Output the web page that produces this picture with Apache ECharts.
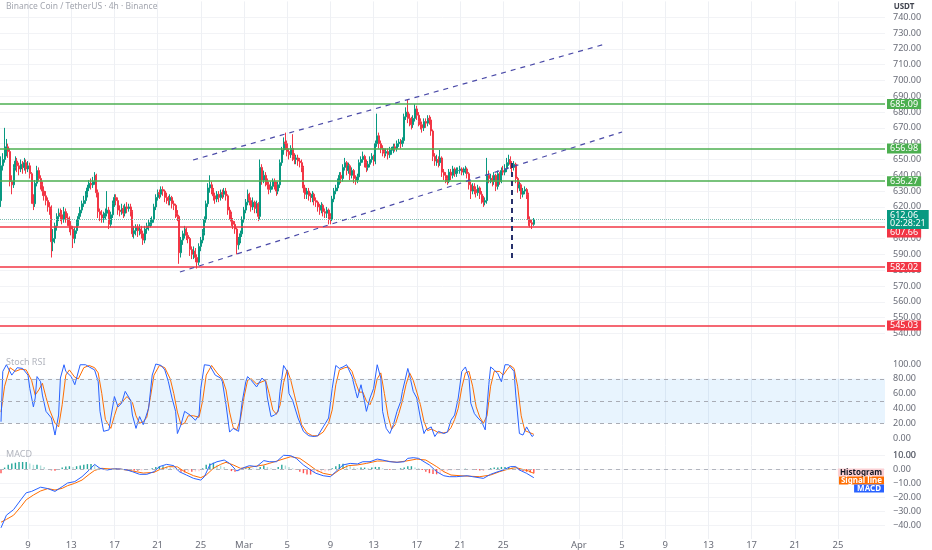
<!DOCTYPE html>
<html><head><meta charset="utf-8">
<script src="https://cdn.jsdelivr.net/npm/echarts@6/dist/echarts.min.js"></script>
<style>html,body{margin:0;padding:0;background:#fff}#c{width:932px;height:550px}</style>
</head><body><div id="c"></div>
<script>
// ---------- DATA ----------
// 4h candles, index 0 = Feb 6 12:00; each candle opens at the previous close
const firstOpen = 624;
const closes = [
646,650,657,658,655,636,634,645,649,646,
644,647,645,648,644,646,641,625,622,635,
643,638,634,630,627,624,620,619,598,600,
608,614,616,615,612,617,613,612,608,606,
600,605,610,614,618,622,624,628,632,635,
634,636,640,629,617,615,613,614,616,618,
609,615,622,626,624,618,617,619,616,620,
619,620,617,603,605,607,605,606,603,599,
606,608,609,610,612,620,626,629,628,631,
630,626,625,624,626,622,621,616,614,591,
599,603,606,602,600,593,590,592,588,585,
595,599,604,612,622,632,634,631,627,625,
628,626,629,628,630,627,618,615,611,609,
606,596,599,603,612,618,623,628,624,620,
623,619,622,614,645,637,640,636,634,631,
633,636,634,630,634,648,656,661,660,655,
653,657,652,650,651,649,648,645,632,628,
630,627,626,628,624,623,620,618,621,617,
616,618,614,612,625,630,632,636,640,638,
645,648,643,646,640,643,638,637,639,648,
650,652,648,645,647,650,652,649,660,665,
660,657,655,654,655,653,656,656,658,657,
660,661,660,662,677,680,676,675,672,676,
682,678,674,672,670,674,673,676,675,668,
652,649,650,648,651,642,640,638,636,642,
640,644,641,643,643,644,642,643,644,641,
634,630,633,631,629,632,628,625,623,624,
640,638,638,636,640,633,641,636,643,642,
644,648,650,647,645,647,638,632,634,628,
630,631,628,612,610,609,612.06];
const highs = [
652,654,670,663,660,657,640,647,652,651,
648,650,649,651,650,649,648,642,628,637,
646,645,640,636,633,630,626,623,621,606,
610,616,619,619,618,620,619,616,614,611,
608,607,612,616,620,624,627,630,634,637,
638,639,642,641,631,619,618,617,619,630,
620,617,624,628,628,626,621,622,621,622,
623,622,622,618,608,609,609,609,608,605,
608,610,612,613,614,622,628,631,631,633,
633,631,629,627,628,627,624,622,618,615,
601,605,608,607,604,601,595,595,594,590,
597,601,606,614,624,635,640,636,632,629,
630,630,631,631,632,632,628,620,617,613,
611,607,601,605,614,620,625,631,629,626,
626,624,624,623,650,647,643,642,638,636,
636,638,638,636,636,650,658,664,667,662,
657,659,666,654,653,653,651,650,646,634,
632,632,629,630,629,626,624,622,623,622,
619,620,619,616,627,632,634,638,642,642,
647,651,649,648,647,645,644,640,641,650,
652,655,653,650,649,652,654,653,662,679,
667,662,659,657,657,657,658,658,660,660,
662,663,663,664,679,683,688,679,677,678,
685,684,680,676,674,676,676,678,678,677,
669,654,653,652,656,652,644,642,640,644,
644,646,645,645,645,646,645,645,646,645,
642,636,635,635,633,634,633,630,627,626,
651,643,641,640,642,641,643,642,645,646,
647,651,653,652,649,649,648,639,636,635,
632,633,632,629,614,612,613];
const lows = [
620,643,648,652,651,633,628,632,643,642,
640,642,641,643,641,642,638,622,618,620,
633,636,631,627,624,621,617,615,588,592,
597,605,611,611,609,610,610,608,604,602,
594,597,603,608,612,616,620,622,626,630,
631,632,634,626,613,611,610,610,612,614,
606,607,613,620,621,615,614,615,613,614,
616,617,614,601,600,602,601,602,600,596,
597,603,605,607,608,610,618,624,625,626,
627,623,622,621,621,619,618,613,611,584,
588,596,600,599,597,589,587,587,585,581,
583,592,597,602,610,620,629,628,624,622,
623,623,624,625,626,624,615,612,608,606,
603,590,593,597,601,610,616,621,621,617,
618,616,616,611,612,634,635,633,631,628,
629,631,631,627,628,632,646,653,656,652,
650,651,649,647,647,646,645,642,629,625,
625,624,623,623,621,620,617,615,616,614,
613,613,609,609,611,623,628,630,634,635,
636,643,640,641,637,638,635,634,635,637,
646,648,645,642,643,645,648,646,647,658,
657,654,652,651,652,650,651,653,654,655,
655,658,657,658,660,675,673,671,669,670,
674,675,671,669,667,668,670,671,672,665,
649,646,646,645,646,639,637,635,634,635,
637,638,639,639,641,641,640,640,641,638,
631,625,628,628,626,627,625,622,620,621,
622,635,635,633,634,630,631,634,635,640,
640,642,646,644,642,643,635,629,630,625,
626,628,625,608,607,606,608];

// horizontal levels and current price
const resistanceLevels = [685.09, 656.98, 636.27];
const supportLevels = [607.66, 582.02, 545.03];
const lastPrice = 612.06;
const countdown = '02:28:21';

// drawings, in [candle index, price]
const channelUpper = [[106.7, 649.7], [335.6, 723.0]];
const channelLower = [[99.4, 578.8], [345.0, 667.4]];
const dropMarker = [[283.9, 647.8], [283.9, 585.2]];

// time axis ticks (candle index of each date label)
const xTickIdx = [15,39,63,87,111,135,159,183,207,231,255,279,321,345,369,393,417,441,465];
const xTickLabels = ['9','13','17','21','25','Mar','5','9','13','17','21','25','Apr','5','9','13','17','21','25'];
// value-axis tick labels
const priceTicks = [540,550,560,570,580,590,600,610,620,630,640,650,660,670,680,690,700,710,720,730,740];
const stochTicks = [0,20,40,60,80,100];
const macdTicks = [-40,-30,-20,-10,0,10];

// Stoch RSI [candle index, value]
const stochK = [[0,22],[1,90],[3,99],[6,85],[9,95],[12,94],[15,85],[16,67],[18,42],[19,54],[20,83],[22,76],[23,58],[25,36],[28,27],[30,4],[32,31],[33,81],[35,99],[36,90],[39,83],[41,72],[44,99],[47,99],[49,96],[52,92],[54,76],[55,36],[57,9],[60,11],[61,27],[63,56],[65,42],[67,47],[69,63],[72,51],[73,31],[75,13],[77,29],[79,18],[82,40],[84,85],[86,100],[89,98],[91,92],[93,76],[95,54],[97,36],[98,6],[100,18],[102,36],[105,31],[108,24],[110,31],[111,67],[113,99],[116,98],[119,85],[122,81],[123,76],[125,45],[127,8],[129,13],[132,9],[134,49],[136,76],[137,83],[139,78],[142,69],[145,81],[147,76],[148,54],[150,29],[152,31],[154,36],[155,63],[157,98],[159,90],[160,60],[162,51],[165,27],[168,9],[171,3],[174,2],[176,3],[179,15],[182,27],[184,67],[186,98],[188,94],[190,96],[192,99],[195,83],[197,63],[198,54],[200,72],[202,49],[203,36],[205,54],[207,67],[209,99],[211,81],[212,36],[214,13],[216,6],[218,18],[220,36],[222,49],[223,63],[226,94],[227,85],[229,63],[231,54],[233,27],[235,6],[236,11],[239,15],[241,2],[243,9],[246,6],[248,8],[250,24],[252,31],[254,54],[256,90],[258,96],[260,81],[261,47],[263,33],[265,27],[267,22],[269,11],[271,72],[272,96],[274,92],[276,87],[278,76],[280,99],[282,99],[285,90],[286,58],[288,6],[290,4],[292,15],[295,2],[296,4]];
const stochD = [[0,35],[2,70],[5,95],[8,90],[11,93],[14,92],[17,78],[19,58],[21,65],[23,74],[25,55],[27,38],[30,20],[32,15],[34,45],[36,85],[38,92],[41,82],[43,80],[46,95],[49,98],[52,95],[54,88],[56,60],[58,25],[61,13],[63,30],[65,45],[67,48],[70,56],[73,48],[75,30],[77,20],[79,22],[81,28],[83,55],[85,85],[88,98],[91,95],[94,80],[96,60],[98,35],[100,18],[102,20],[104,30],[107,30],[110,28],[112,50],[114,85],[117,98],[120,88],[123,80],[125,65],[127,35],[129,14],[131,11],[133,25],[135,55],[137,78],[139,80],[142,73],[145,76],[147,78],[149,60],[151,38],[153,32],[155,44],[157,75],[159,92],[161,78],[163,58],[165,38],[167,18],[170,7],[173,3],[176,3],[179,8],[182,20],[184,38],[186,72],[188,92],[191,95],[193,96],[195,90],[197,75],[199,62],[201,62],[203,50],[205,45],[207,57],[209,80],[211,88],[213,60],[215,30],[217,12],[219,18],[221,33],[223,50],[225,72],[227,88],[229,78],[231,62],[233,45],[235,22],[237,10],[239,12],[241,10],[243,7],[246,7],[248,8],[250,14],[252,25],[254,40],[256,68],[258,88],[260,90],[262,70],[264,42],[266,28],[268,20],[270,30],[272,70],[274,90],[277,90],[279,85],[281,92],[283,98],[285,94],[287,70],[289,30],[291,10],[293,8],[295,6],[296,5]];
const stochBand = [20, 80];
const stochMid = 50;

// MACD [candle index, value]
const macdLine = [[0,-42],[3,-33],[7,-29],[11,-22],[14,-17],[17,-16],[22,-13],[26,-14],[30,-16],[34,-12.6],[37,-10],[41,-9],[45,-5.5],[49,-0.7],[52,3.3],[55,0.5],[59,-0.7],[62,0],[66,0],[70,-0.7],[73,-1.9],[77,-3.8],[81,-3.8],[85,-1.9],[88,1.7],[92,3.3],[96,2.4],[99,-1.9],[103,-4.3],[107,-6.7],[111,-7.9],[113,-5.5],[116,2.9],[120,5.2],[124,6.4],[127,4.0],[131,-1.4],[135,1.0],[138,2.4],[142,1.7],[146,6.0],[149,5.2],[153,5.2],[157,9.8],[161,9.5],[164,7.6],[168,2.9],[172,-0.7],[175,-3.1],[179,-4.8],[183,-5.5],[186,-1.9],[190,2.9],[194,4.0],[198,3.6],[201,5.2],[205,5.2],[209,7.1],[212,6.4],[216,5.2],[220,4.8],[224,5.2],[226,7.6],[229,8.1],[232,7.6],[235,5.2],[238,2.9],[242,-1.9],[246,-4.8],[249,-5.5],[253,-5.5],[259,-4.8],[262,-5.5],[268,-6.7],[272,-3.8],[275,-2.4],[279,-0.7],[283,1.7],[286,1.7],[288,-0.7],[292,-3.1],[296,-6.2]];
const signalLine = [[0,-38],[3,-36],[7,-33],[11,-27],[14,-22],[18,-18.6],[22,-15.7],[26,-14],[30,-15],[34,-13.8],[37,-11.9],[41,-10.2],[45,-7.9],[49,-3.8],[52,-1.0],[56,0.5],[61,0],[66,0],[73,-1.4],[79,-2.9],[85,-2.4],[88,-0.5],[93,1.7],[98,1.5],[102,-1.9],[107,-4.8],[111,-6.2],[114,-4.3],[118,0.5],[122,3.3],[125,4.8],[129,2.9],[133,0.5],[137,1.0],[140,1.7],[146,2.9],[149,4.0],[155,6.4],[161,8.8],[166,7.6],[170,4.0],[175,-0.7],[179,-3.1],[184,-4.3],[188,-0.7],[193,2.4],[198,2.9],[203,4.0],[209,5.7],[214,5.7],[220,4.8],[225,5.7],[231,7.1],[236,6.4],[242,1.7],[246,-1.9],[250,-4.3],[255,-4.8],[261,-5.2],[266,-5.5],[272,-4.3],[277,-1.9],[282,0],[286,1.0],[289,0],[293,-1.4],[296,-3.1]];
const histogram = [[0,-3],[2,1],[4,3],[6,4],[8,4.5],[10,5],[12,5],[14,5],[16,4],[18,3],[20,3],[22,2.5],[24,1.5],[26,0],[28,-1],[30,-1.2],[32,-0.5],[34,1],[36,1.8],[38,2],[40,1.5],[42,2],[44,2.5],[46,3],[48,3.5],[50,3.5],[52,3],[54,1],[56,0],[58,-0.8],[60,-0.5],[62,0],[64,0.3],[66,0],[68,-0.3],[70,-0.5],[72,-0.8],[74,-1],[76,-1.2],[78,-1],[80,-0.8],[82,0],[84,0.6],[86,1.5],[88,2],[90,2],[92,1.8],[94,1],[96,0.6],[98,-0.8],[100,-2],[102,-2.4],[104,-2],[106,-2],[108,-1.8],[110,-1.6],[112,0.5],[114,3],[116,4],[118,4.5],[120,3],[122,2.5],[124,1.5],[126,0],[128,-1.5],[130,-2],[132,-1.5],[134,0],[136,0.5],[138,0.8],[140,0.3],[142,0.2],[144,1.5],[146,2.5],[148,1.5],[150,0.5],[152,0],[154,1.5],[156,3],[158,2.5],[160,1.5],[162,0.5],[164,-0.5],[166,-2],[168,-3],[170,-4],[172,-4],[174,-3],[176,-2.5],[178,-2],[180,-1.8],[182,-1.5],[184,0.5],[186,2],[188,3.5],[190,3.8],[192,3],[194,2],[196,1],[198,0.5],[200,1],[202,1],[204,0.5],[206,1],[208,1.5],[210,1.5],[212,0.5],[214,0],[216,-0.5],[218,-0.5],[220,0],[222,0.5],[224,1],[226,2],[228,2],[230,1],[232,0.5],[234,-0.8],[236,-2],[238,-3],[240,-3.5],[242,-3.8],[244,-3],[246,-2.5],[248,-1.5],[250,-1],[252,-0.5],[254,-0.3],[256,0],[258,0.2],[260,0],[262,-0.3],[264,-0.6],[266,-1],[268,-1],[270,0],[272,0.6],[274,1],[276,1],[278,1.5],[280,1.5],[282,1.5],[284,1],[286,0.5],[288,-0.8],[290,-1.5],[292,-2],[294,-2.5],[296,-3]];

// ---------- CHART ----------
const FONT = 'Noto Sans, sans-serif';
const UP = '#089981', DOWN = '#f23645', GREEN = '#4caf50', RED = '#f23645';
const AXIS_TXT = '#6a6d78';
const candles = closes.map((c, i) => [i, i === 0 ? firstOpen : closes[i - 1], c, lows[i], highs[i]]);
const histData = histogram.map((p, k) => {
  const v = p[1], prev = k ? histogram[k - 1][1] : v;
  const color = v >= 0 ? (v >= prev ? '#26a69a' : '#b2dfdb') : (v <= prev ? '#ff5252' : '#ffcdd2');
  return { value: p, itemStyle: { color } };
});

const X_MIN = -0.556, X_MAX = 491.1;
function xAxisFor(gridIndex, showLabels) {
  return {
    type: 'value', gridIndex, min: X_MIN, max: X_MAX,
    axisLine: { show: false },
    axisTick: { show: false, customValues: xTickIdx },
    axisLabel: {
      show: showLabels, customValues: xTickIdx, margin: 1,
      color: AXIS_TXT, fontSize: 9.5, fontFamily: FONT,
      formatter: v => { const k = xTickIdx.indexOf(v); return k < 0 ? '' : xTickLabels[k]; }
    },
    splitLine: { show: true, lineStyle: { color: '#eef0f4', width: 1 } }
  };
}
function fmt(v) { return v < 0 ? '\u2212' + Math.abs(v).toFixed(2) : v.toFixed(2); }
function yAxisFor(gridIndex, min, max, ticks, showSplit) {
  return {
    type: 'value', gridIndex, position: 'right', min, max,
    axisLine: { show: false },
    axisTick: { show: false, customValues: ticks },
    axisLabel: {
      customValues: ticks, hideOverlap: false, showMinLabel: true, showMaxLabel: true,
      color: AXIS_TXT, fontSize: 9, margin: 8, fontFamily: FONT,
      formatter: v => fmt(v)
    },
    splitLine: { show: showSplit, lineStyle: { color: '#f2f3f6', width: 1 } }
  };
}

function levelLine(v, color, extra) {
  return {
    yAxis: v,
    lineStyle: { color, width: 1.5, type: 'solid' },
    label: Object.assign({
      show: true, position: 'end', distance: 2, formatter: v.toFixed(2),
      backgroundColor: color, color: '#fff', fontSize: 9, lineHeight: 9,
      fontFamily: FONT, padding: [1, 3, 0, 3]
    }, extra || {})
  };
}
const trendStyle = { color: '#4b4ba8', width: 1.2, type: [5, 5] };
function seg(points, style) {
  return [{ coord: points[0], lineStyle: style, label: { show: false } }, { coord: points[1] }];
}

const priceMarks = [];
resistanceLevels.forEach(v => priceMarks.push(levelLine(v, GREEN)));
// first support badge sits just below the current-price badge
priceMarks.push(levelLine(supportLevels[0], RED, { verticalAlign: 'top', padding: [2, 3, 0, 3] }));
supportLevels.slice(1).forEach(v => priceMarks.push(levelLine(v, RED)));
priceMarks.push({
  yAxis: lastPrice,
  lineStyle: { color: '#7fbfb3', width: 1, type: 'dotted' },
  label: {
    show: true, position: 'end', distance: 2, formatter: lastPrice.toFixed(2) + '\n' + countdown,
    backgroundColor: UP, color: '#fff', fontSize: 9, lineHeight: 8, fontFamily: FONT, padding: [2, 3, 1, 3]
  }
});
priceMarks.push(seg(channelUpper, trendStyle));
priceMarks.push(seg(channelLower, trendStyle));
priceMarks.push(seg(dropMarker, { color: '#27306b', width: 2, type: [5, 4] }));

const option = {
  animation: false,
  backgroundColor: '#ffffff',
  grid: [
    { left: 0, right: 47, top: 1.4, height: 347.8 },
    { left: 0, right: 47, top: 349.2, height: 96.2 },
    { left: 0, right: 47, top: 445.4, height: 93.6 }
  ],
  xAxis: [xAxisFor(0, false), xAxisFor(1, false), xAxisFor(2, true)],
  yAxis: [
    yAxisFor(0, 530, 750, priceTicks, true),
    yAxisFor(1, -10, 120, stochTicks, false),
    yAxisFor(2, -50, 16.86, macdTicks, true)
  ],
  series: [
    {
      type: 'candlestick', xAxisIndex: 0, yAxisIndex: 0, data: candles, barWidth: 1.5,
      itemStyle: { color: UP, color0: DOWN, borderColor: UP, borderColor0: DOWN, borderWidth: 1 },
      markLine: { silent: true, symbol: ['none', 'none'], animation: false, data: priceMarks }
    },
    {
      type: 'line', xAxisIndex: 1, yAxisIndex: 1, data: stochD, showSymbol: false,
      lineStyle: { color: '#ff6d00', width: 1 }, itemStyle: { color: '#ff6d00' },
      markArea: { silent: true, itemStyle: { color: 'rgba(33,150,243,0.10)' },
        data: [[{ yAxis: stochBand[0] }, { yAxis: stochBand[1] }]] },
      markLine: { silent: true, symbol: ['none', 'none'], label: { show: false },
        lineStyle: { color: '#a9acb5', width: 1, type: [4, 4] },
        data: [{ yAxis: stochBand[1] }, { yAxis: stochMid }, { yAxis: stochBand[0] }] }
    },
    {
      type: 'line', xAxisIndex: 1, yAxisIndex: 1, data: stochK, showSymbol: false,
      lineStyle: { color: '#2962ff', width: 1 }, itemStyle: { color: '#2962ff' }
    },
    {
      type: 'bar', xAxisIndex: 2, yAxisIndex: 2, data: histData, barWidth: 1.4
    },
    {
      type: 'line', xAxisIndex: 2, yAxisIndex: 2, data: signalLine, showSymbol: false,
      lineStyle: { color: '#ff6d00', width: 1 }, itemStyle: { color: '#ff6d00' },
      markLine: { silent: true, symbol: ['none', 'none'], label: { show: false },
        lineStyle: { color: '#b2b5be', width: 1, type: [4, 4] }, data: [{ yAxis: 0 }] }
    },
    {
      type: 'line', xAxisIndex: 2, yAxisIndex: 2, data: macdLine, showSymbol: false,
      lineStyle: { color: '#2962ff', width: 1 }, itemStyle: { color: '#2962ff' }
    }
  ],
  graphic: [
    { type: 'text', x: 6, y: 7, z: 100, style: { text: 'Binance Coin / TetherUS \u00b7 4h \u00b7 Binance', fill: '#a3a6af', fontSize: 8.5, fontFamily: FONT, verticalAlign: 'middle' } },
    { type: 'text', x: 904, y: 7, z: 100, style: { text: 'USDT', fill: '#434651', fontSize: 8, fontWeight: 'bold', fontFamily: FONT, align: 'center', verticalAlign: 'middle' } },
    { type: 'text', x: 6, y: 362, z: 100, style: { text: 'Stoch RSI', fill: '#b2b5be', fontSize: 9, fontFamily: FONT, verticalAlign: 'middle' } },
    { type: 'text', x: 6, y: 454, z: 100, style: { text: 'MACD', fill: '#b2b5be', fontSize: 9, fontFamily: FONT, verticalAlign: 'middle' } },
    { type: 'text', x: 893, y: 455, z: 100, style: { text: fmt(macdTicks[macdTicks.length - 1]), fill: AXIS_TXT, fontSize: 9, fontFamily: FONT, verticalAlign: 'middle' } },
    { type: 'text', x: 884, y: 472.5, z: 100, style: { text: 'Histogram', fill: '#131722', backgroundColor: '#fbd0d4', fontSize: 8, lineHeight: 8, fontWeight: 'bold', fontFamily: FONT, padding: [0, 2], align: 'right', verticalAlign: 'middle' } },
    { type: 'text', x: 884, y: 480.5, z: 100, style: { text: 'Signal line', fill: '#fff', backgroundColor: '#ff6d00', fontSize: 8, lineHeight: 8, fontWeight: 'bold', fontFamily: FONT, padding: [0, 2], align: 'right', verticalAlign: 'middle' } },
    { type: 'text', x: 884, y: 488.5, z: 100, style: { text: 'MACD', fill: '#fff', backgroundColor: '#2962ff', fontSize: 8, lineHeight: 8, fontWeight: 'bold', fontFamily: FONT, padding: [0, 3], align: 'right', verticalAlign: 'middle' } }
  ]
};
const chart = echarts.init(document.getElementById('c'));
chart.setOption(option);
</script></body></html>
